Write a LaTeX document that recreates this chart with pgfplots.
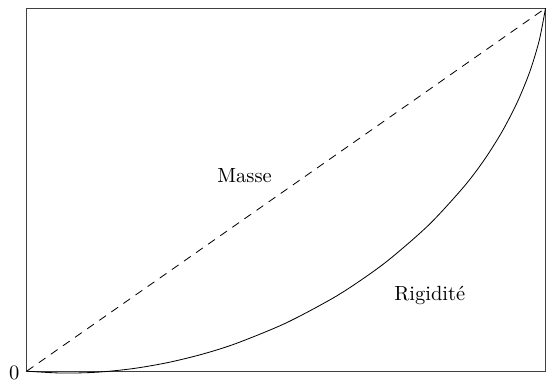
\documentclass[border=0pt]{standalone}
\usepackage{pgfplots}
\pgfplotsset{compat=1.18}
\begin{document}
\begin{tikzpicture}
	\begin{axis}[
			width=253pt,
			height=177pt,
			scale only axis,
			xmin=0, xmax=1,
			ymin=0, ymax=1,
			xtick=\empty,
			ytick={0},
			major tick length=0pt,
			yticklabel style={yshift=-1pt},
			axis line style={black!75, line width=0.5pt},
			clip=false,
		]

		% Masse (linear)
		\addplot[black, dash pattern=on 4pt off 3.2pt] coordinates {
				(0,0) (1,1)
			};

		% Rigidite
		\addplot[black, smooth] coordinates {
				(0.0000,0.0000)
				(0.0677,-0.0051)
				(0.1358,-0.0028)
				(0.2037,0.0069)
				(0.2710,0.0234)
				(0.3376,0.0465)
				(0.4032,0.0761)
				(0.4984,0.1318)
				(0.5890,0.2002)
				(0.6460,0.2525)
				(0.7006,0.3098)
				(0.7759,0.4041)
				(0.8426,0.5081)
				(0.8820,0.5823)
				(0.9162,0.6598)
				(0.9455,0.7407)
				(0.9696,0.8246)
				(0.9879,0.9112)
				(1.0000,1.0000)
			};

		\node at (axis cs:0.420,0.539) {Masse};
		\node at (axis cs:0.777,0.208) {Rigidité};
	\end{axis}
	\path ([xshift=-13pt,yshift=-5pt]current axis.south west)
		([xshift=5.6pt,yshift=4pt]current axis.north east);
\end{tikzpicture}
\end{document}
